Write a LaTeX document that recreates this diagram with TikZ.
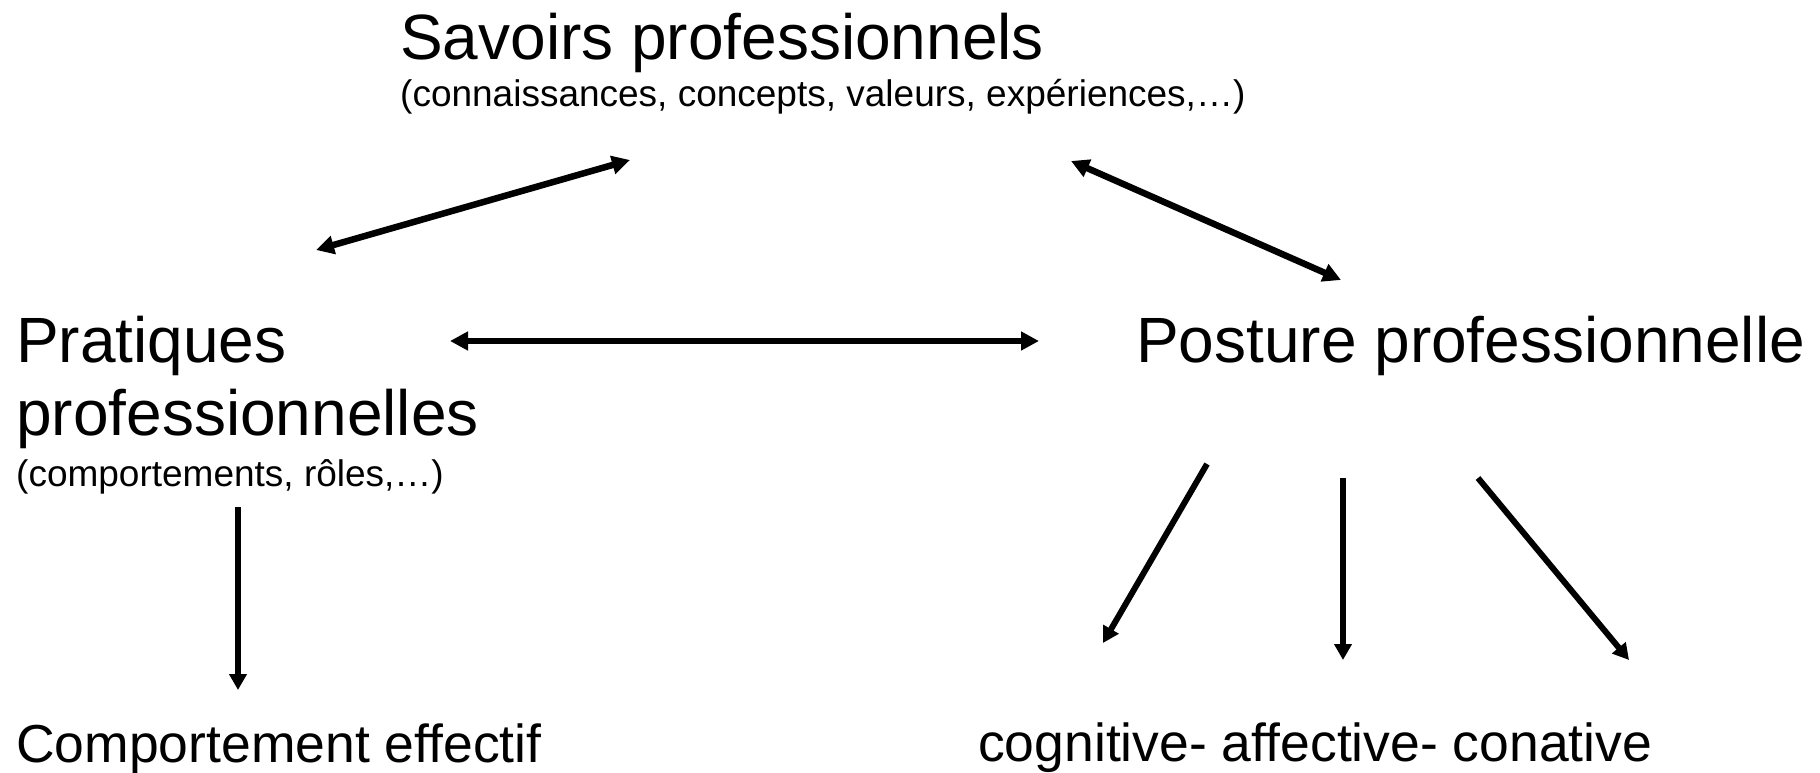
\documentclass[tikz,border=0pt]{standalone}
\usepackage{fontspec}
\setmainfont{Liberation Sans}
\usetikzlibrary{arrows.meta, positioning}
\tikzset{
        x=1pt, y=-1pt, % pixel-like units, y pointing down
        >={Triangle[length=18pt, width=18pt]}, % bold arrow heads
        title/.style={inner sep=0pt, anchor=base west, font=\fontsize{64}{72}\selectfont},
        result/.style={inner sep=0pt, anchor=base west, font=\fontsize{53.5}{60}\selectfont},
        note/.style={inner sep=0pt, anchor=base west, font=\fontsize{37}{42}\selectfont},
        biarrow/.style={<->, line width=6.5pt}, % links between the three poles
        subarrow/.style={-{Triangle[length=16pt, width=17pt]}, line width=6pt}, % downward links
    }

\begin{document}
\begin{tikzpicture}
    \useasboundingbox (0,0) rectangle (1820,773);

    % the three poles
    \node[title] (savoirs) at (400,60) {Savoirs professionnels};
    \node[note] (savoirsnote) at (400,107) {(connaissances, concepts, valeurs, expériences,…)};
    \node[title] (pratiques) at (16,362) {Pratiques};
    \node[title] (pratiques2) at (16,435) {professionnelles};
    \node[note] (pratiquesnote) at (16,486) {(comportements, rôles,…)};
    \node[title] (posture) at (1136,362) {Posture professionnelle};

    % what they lead to
    \node[result] (comportement) at (16,762) {Comportement effectif};
    \node[result] (dimensions) at (978,761) {cognitive- affective- conative};

    % arrow ends
    \coordinate (sav-l) at (630,160);
    \coordinate (pra-t) at (316,250);
    \coordinate (sav-r) at (1071,161);
    \coordinate (pos-t) at (1341,280);
    \coordinate (pra-r) at (450,341);
    \coordinate (pos-l) at (1039,341);
    \coordinate (pra-b) at (238,507);
    \coordinate (com-t) at (238,690);
    \coordinate (pos-b1) at (1207,464);
    \coordinate (cog-t) at (1103,643);
    \coordinate (pos-b2) at (1343,478);
    \coordinate (aff-t) at (1343,660);
    \coordinate (pos-b3) at (1478,478);
    \coordinate (con-t) at (1629,660);

    \draw[biarrow] (pra-t) -- (sav-l);
    \draw[biarrow] (sav-r) -- (pos-t);
    \draw[biarrow] (pra-r) -- (pos-l);

    \draw[subarrow] (pra-b) -- (com-t);
    \draw[subarrow] (pos-b1) -- (cog-t);
    \draw[subarrow] (pos-b2) -- (aff-t);
    \draw[subarrow] (pos-b3) -- (con-t);
\end{tikzpicture}
\end{document}
